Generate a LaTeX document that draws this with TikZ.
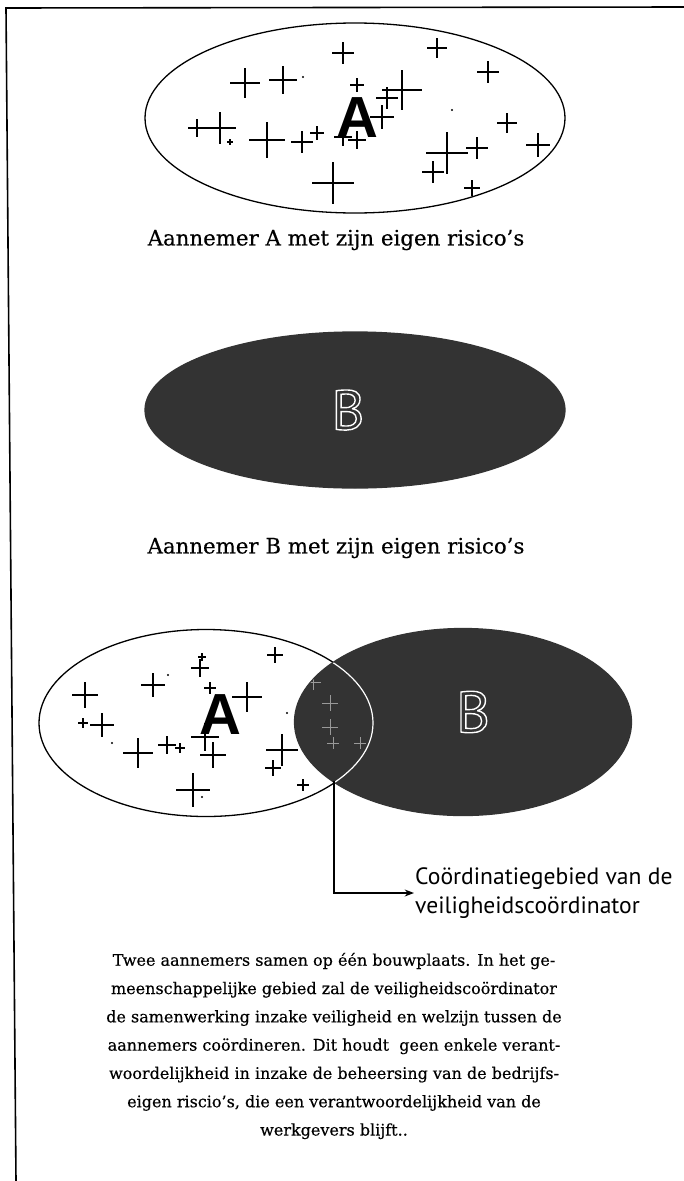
\documentclass[tikz,border=0pt]{standalone}
\usepackage{fontspec}
\setmainfont{DejaVu Serif}[FakeBold=0.4]
\newfontfamily\labelfont{PT Sans}
\newfontfamily\letterfont{Liberation Sans}
\newcommand\hollow[1]{\special{pdf:literal direct 1 Tr 1.4 w}#1\special{pdf:literal direct 0 Tr}}
\usetikzlibrary{arrows.meta,positioning,shapes.geometric}

\begin{document}
\begin{tikzpicture}[x=1pt,y=-1pt,
  zone/.style={draw, ellipse, line width=1.3pt, inner sep=0pt},
  dark/.style={fill=black!80},
  captext/.style={font=\fontsize{21.3}{26}\selectfont},
  star/.style={line width=1.4pt},
  >=Stealth]
  \useasboundingbox (0,0) rectangle (684,1181);
  % frame
  \draw[line width=1.6pt] (684,7) -- (6,8) -- (16,1181);

  % aannemer A
  \node[zone, minimum width=420pt, minimum height=190pt] (setA) at (355,118) {};
  \foreach \x/\y/\s in {343/53/11, 437/48/10, 245/83/15, 283/80/14, 357/85/7,
      402/90/20, 387/98/11, 488/72/11, 382/117/12, 507/123/10, 197/128/9,
      220/128/16, 230/142/3, 267/140/18, 302/142/11, 317/133/7, 343/137/9,
      357/140/9, 447/153/21, 477/148/11, 433/172/11, 538/145/12, 472/188/8,
      333/183/21}
    \draw[star] (\x-\s,\y) -- (\x+\s,\y) (\x,\y-\s) -- (\x,\y+\s);
  \fill (303,77) circle (1.2pt) (452,110) circle (1.2pt);
  \node[font=\letterfont\bfseries\fontsize{58}{58}\selectfont] (letA) at (357,118) {A};

  % aannemer B
  \node[zone, dark, draw=black!80, minimum width=420pt, minimum height=156pt] (setB) at (355,410) {};
  \node[text=white, font=\labelfont\fontsize{56}{56}\selectfont] (letB) at (348,410) {\hollow{B}};

  % samen op de bouwplaats
  \node[zone, fill=white, minimum width=334pt, minimum height=187pt] (bothA) at (206,723) {};
  \foreach \x/\y/\s in {202/657/4, 200/668/9, 275/655/8, 153/685/12, 210/688/6,
      247/697/15, 85/695/13, 83/723/5, 102/725/12, 138/753/15, 167/745/9,
      180/748/5, 205/737/14, 213/755/13, 282/750/16, 273/768/8, 303/785/6,
      193/790/17}
    \draw[star] (\x-\s,\y) -- (\x+\s,\y) (\x,\y-\s) -- (\x,\y+\s);
  \fill (168,675) circle (1.2pt) (112,743) circle (1.2pt) (287,713) circle (1.2pt)
        (202,797) circle (1.2pt);
  \node[font=\letterfont\bfseries\fontsize{58}{58}\selectfont] (letA2) at (220,715) {A};
  \node[zone, dark, draw=black!80, minimum width=337pt, minimum height=187pt] (bothB) at (463,722) {};
  \begin{scope}
    \clip (463,722) ellipse [x radius=168pt, y radius=93pt];
    \draw[white, line width=1.2pt] (206,723) ellipse [x radius=167pt, y radius=93pt];
    \foreach \x/\y/\s in {313/682/8, 330/703/8, 330/727/8, 333/743/6, 360/743/6}
      \draw[black!40, line width=1pt] (\x-\s,\y) -- (\x+\s,\y) (\x,\y-\s) -- (\x,\y+\s);
  \end{scope}
  \node[text=white, font=\labelfont\fontsize{58}{58}\selectfont] (letB2) at (473,712) {\hollow{B}};
  \coordinate (common) at (334,781);

  \node[font=\labelfont\fontsize{23.6}{29}\selectfont, align=left, anchor=west, inner sep=1pt] (lbl) at (414,893)
    {Coördinatiegebied van de\\veiligheidscoördinator};
  \draw[->, line width=1.4pt] (common) |- (lbl.west);

  % onderschriften
  \node[captext] (capA) at (336,240) {Aannemer A met zijn eigen risico’s};
  \node[captext] (capB) at (336,548) {Aannemer B met zijn eigen risico’s};
  \node[font=\fontsize{16}{28.3}\selectfont, align=center] (txt) at (334,1046)
    {Twee aannemers samen op één bouwplaats. In het ge-\\
     meenschappelijke gebied zal de veiligheidscoördinator\\
     de samenwerking inzake veiligheid en welzijn tussen de\\
     aannemers coördineren. Dit houdt\ \ geen enkele verant-\\
     woordelijkheid in inzake de beheersing van de bedrijfs-\\
     eigen riscio’s, die een verantwoordelijkheid van de\\
     werkgevers blijft..};
\end{tikzpicture}
\end{document}
